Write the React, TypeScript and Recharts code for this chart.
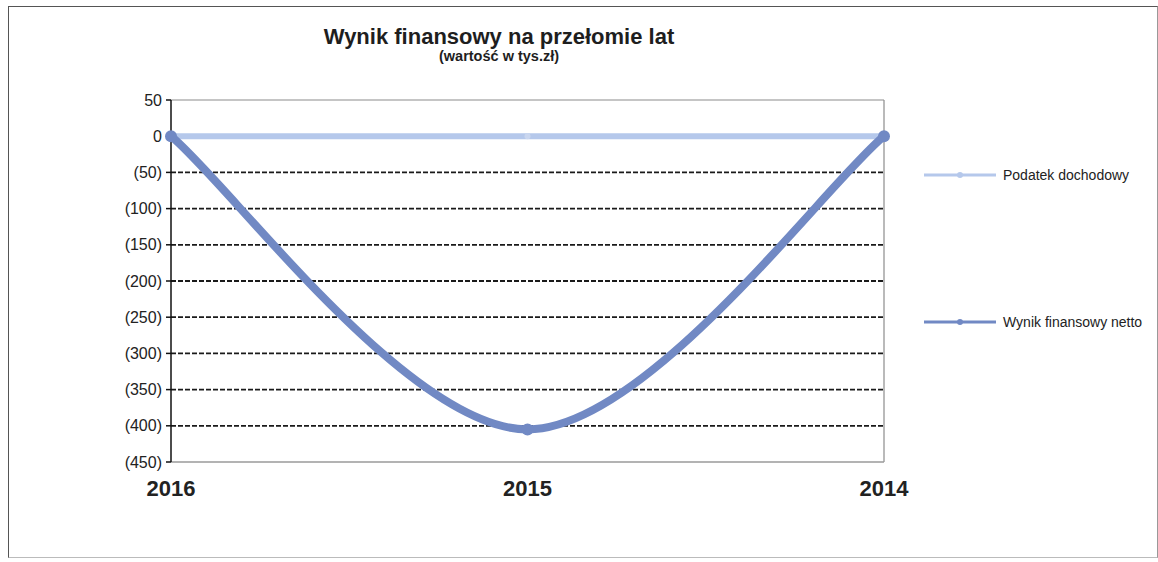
import React from 'react';
import {
  LineChart,
  Line,
  XAxis,
  YAxis,
  CartesianGrid,
  Legend,
} from 'recharts';

// dane (tys. zł)
const years = ['2016', '2015', '2014'];
const podatekDochodowy = [0, 0, 0];
const wynikNetto = [0, -405, 0];
const yTicks = [50, 0, -50, -100, -150, -200, -250, -300, -350, -400, -450];
const gridValues = [-50, -100, -150, -200, -250, -300, -350, -400];

const seriesNames = ['Podatek dochodowy', 'Wynik finansowy netto'];
const colors = ['#b5c8eb', '#7189c4'];

const data = years.map((year, i) => ({
  year,
  podatek: podatekDochodowy[i],
  wynik: wynikNetto[i],
}));

const FONT = '"Liberation Sans", Arial, sans-serif';

// wygładzanie w stylu Excela (Catmull-Rom, zdublowane punkty końcowe)
const excelSmooth = (context: any) => {
  let pts: [number, number][] = [];
  return {
    areaStart() {},
    areaEnd() {},
    lineStart() {
      pts = [];
    },
    point(x: number, y: number) {
      pts.push([+x, +y]);
    },
    lineEnd() {
      if (!pts.length) return;
      context.moveTo(pts[0][0], pts[0][1]);
      for (let i = 0; i < pts.length - 1; i++) {
        const p0 = pts[Math.max(i - 1, 0)];
        const p1 = pts[i];
        const p2 = pts[i + 1];
        const p3 = pts[Math.min(i + 2, pts.length - 1)];
        context.bezierCurveTo(
          p1[0] + (p2[0] - p0[0]) / 6,
          p1[1] + (p2[1] - p0[1]) / 6,
          p2[0] - (p3[0] - p1[0]) / 6,
          p2[1] - (p3[1] - p1[1]) / 6,
          p2[0],
          p2[1]
        );
      }
    },
  };
};

const formatTick = (v: number) => (v < 0 ? `(${-v})` : `${v}`);

const CustomLegend = () => (
  <div style={{ position: 'relative', width: 240, height: 170, fontFamily: FONT }}>
    {seriesNames.map((name, i) => (
      <div
        key={name}
        style={{ position: 'absolute', left: 0, top: i * 147, height: 20, display: 'flex', alignItems: 'center' }}
      >
        <svg width={72} height={12} style={{ marginLeft: 6 }}>
          <line x1={0} y1={6} x2={72} y2={6} stroke={colors[i]} strokeWidth={3} />
          <circle cx={36} cy={6} r={3} fill={colors[i]} />
        </svg>
        <span style={{ marginLeft: 7, fontSize: 14, color: '#222', whiteSpace: 'nowrap' }}>{name}</span>
      </div>
    ))}
  </div>
);

const App: React.FC = () => {
  return (
    <div
      style={{
        position: 'absolute',
        left: 0,
        top: 0,
        width: 1158,
        height: 562,
        background: '#fff',
        fontFamily: FONT,
      }}
    >
      {/* ramka wykresu */}
      <div
        style={{
          position: 'absolute',
          left: 8,
          top: 6,
          width: 1148,
          height: 550,
          borderLeft: '1px solid #555',
          borderTop: '1px solid #555',
          borderRight: '1px solid #999',
          borderBottom: '1px solid #bbb',
        }}
      />
      <div
        style={{
          position: 'absolute',
          left: 299,
          width: 400,
          top: 26,
          textAlign: 'center',
          fontWeight: 'bold',
          color: '#1e1e1e',
          lineHeight: 1,
        }}
      >
        <div style={{ fontSize: 22 }}>Wynik finansowy na przełomie lat</div>
        <div style={{ fontSize: 14.5, marginTop: 1 }}>(wartość w tys.zł)</div>
      </div>
      <LineChart
        width={1158}
        height={562}
        data={data}
        margin={{ top: 100, right: 274, bottom: 60, left: 91 }}
        style={{ position: 'absolute', left: 0, top: 0 }}
      >
        <CartesianGrid
          vertical={false}
          stroke="#1a1a1a"
          strokeWidth={1.8}
          strokeDasharray="5 2"
          horizontalValues={gridValues}
        />
        <CartesianGrid
          stroke="#8c8c8c"
          strokeWidth={1.2}
          horizontalValues={[50]}
          verticalCoordinatesGenerator={({ offset }: any) => [offset.left + offset.width]}
        />
        <XAxis
          dataKey="year"
          height={40}
          axisLine={{ stroke: '#9a9a9a', strokeWidth: 1.5 }}
          tickLine={false}
          tickSize={0}
          tickMargin={18}
          tick={{ fontSize: 22, fontWeight: 'bold', fill: '#222', fontFamily: FONT }}
        />
        <YAxis
          type="number"
          domain={[-450, 50]}
          ticks={yTicks}
          interval={0}
          width={80}
          tickFormatter={formatTick}
          axisLine={{ stroke: '#111', strokeWidth: 1.5 }}
          tickLine={{ stroke: '#111', strokeWidth: 1.5 }}
          tickSize={5}
          tickMargin={4}
          tick={{ fontSize: 16, fill: '#222', fontFamily: FONT }}
        />
        <Legend
          layout="vertical"
          align="center"
          verticalAlign="middle"
          wrapperStyle={{ left: 918, top: 165, width: 240 }}
          content={() => <CustomLegend />}
        />
        <Line
          dataKey="podatek"
          name={seriesNames[0]}
          stroke={colors[0]}
          strokeWidth={6}
          type="linear"
          dot={{ r: 3, fill: '#c9d6ef', stroke: 'none' }}
          isAnimationActive={false}
        />
        <Line
          dataKey="wynik"
          name={seriesNames[1]}
          stroke={colors[1]}
          strokeWidth={8}
          type={excelSmooth as any}
          dot={{ r: 6, fill: colors[1], stroke: 'none' }}
          isAnimationActive={false}
        />
      </LineChart>
    </div>
  );
};

export default App;
